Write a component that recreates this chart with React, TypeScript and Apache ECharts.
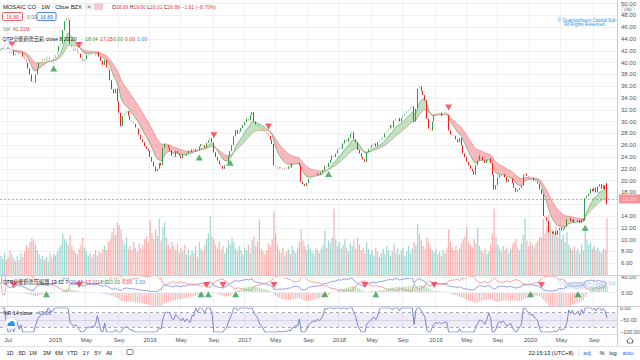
import React, { useEffect, useRef } from "react";
import * as echarts from "echarts";

// ---------------- data (weekly) ----------------
const startDate = "2014-06-09";
const padBars = 5;
const firstOpen = 42.0;
const lastBar = { open: 18.69, high: 19.6, low: 16.01, close: 16.89 };

const close2014 = [42.3,42.6,42.9,42.3,42.0,41.6,41.9,41.2,41.6,41.9,41.4,41.7,41.0,40.6,40.0,39.0,38.0,36.8,36.6,38.0,39.2,40.0,40.2,40.6,40.3,40.8,41.0,40.5,40.2,40.8];
const close2015 = [41.3,41.9,42.8,43.2,45.5,47.0,47.6,47.2,43.2,42.6,42.0,42.4,41.8,41.5,40.8,40.2,40.6,41.3,41.8,41.4,42.0,41.6,41.2,41.8,41.0,40.3,39.6,40.5,39.2,38.8,37.0,35.5,34.8,35.6,33.5,31.5,29.2,31.0,31.4,31.8,31.0,30.3,30.0,29.6,29.0,28.8,27.8,27.0,26.5,25.8,25.4,25.0];
const close2016 = [24.0,23.2,22.4,21.6,22.0,23.0,22.6,25.5,26.3,26.0,25.6,25.1,24.2,24.0,25.0,24.6,24.2,23.8,24.5,24.2,24.6,25.0,24.8,25.3,25.0,25.4,25.1,25.8,26.2,26.0,25.6,26.4,26.8,27.2,26.5,24.8,24.0,23.4,22.8,22.5,22.0,22.6,22.9,24.2,25.0,26.0,27.5,28.6,27.9,28.3,28.9,29.4];
const close2017 = [29.9,30.5,30.2,31.1,31.6,30.0,29.5,29.3,29.0,28.9,28.5,28.3,28.0,27.6,26.9,26.2,22.6,22.3,22.0,22.3,22.1,21.9,22.2,22.0,22.4,22.2,22.9,23.0,23.2,23.0,22.6,19.8,19.4,19.1,19.6,20.3,20.6,20.8,21.0,20.9,21.3,21.0,21.4,21.8,22.5,22.3,23.0,23.5,24.2,24.0,24.6,25.3];
const close2018 = [25.6,25.4,26.3,26.9,26.6,27.3,27.9,28.2,27.0,26.5,25.2,24.6,24.0,23.6,23.2,24.8,25.3,25.6,26.0,26.3,25.8,26.5,26.8,27.0,27.3,28.0,28.4,28.8,29.4,29.0,30.2,30.5,30.6,30.0,30.6,31.0,31.4,31.8,32.0,32.4,32.6,30.0,32.2,35.6,36.0,35.2,34.5,33.6,30.5,28.8,28.5,30.0,31.0];
const close2019 = [31.4,31.2,31.5,31.0,31.4,31.6,31.2,28.5,27.8,27.7,27.6,27.0,26.5,27.2,26.0,24.6,24.0,23.2,22.6,22.0,21.6,21.0,22.6,23.4,24.3,24.0,23.4,23.0,23.6,23.8,23.0,21.0,18.5,19.2,20.5,21.0,20.8,21.1,20.6,19.8,20.2,20.4,19.6,18.8,18.1,18.4,18.7,19.1,21.0,21.2,20.8,20.5];
const close2020 = [20.3,20.4,20.0,19.8,19.5,18.5,17.7,14.0,13.8,13.2,11.2,11.3,11.0,11.4,10.8,11.6,12.0,11.6,11.8,12.2,13.5,13.7,13.1,13.4,12.9,13.0,13.3,12.8,13.5,13.2,17.0,17.4,17.8,18.6,18.2,18.8,18.0,19.0,19.4,18.6,19.2,18.5,16.89];

// volume, millions
const vol2014 = [14,12,16,11,13,18,15,12,10,14,11,16,13,17,22,20,24,27,25,22,18,15,12,14,11,13,10,16,12,15];
const vol2015 = [14,17,20,22,30,26,24,22,29,21,18,16,15,19,22,27,20,17,14,16,13,15,18,14,17,16,19,21,18,24,26,31,34,29,38,36,33,25,22,27,19,21,18,24,20,17,23,19,22,26,28,24];
const vol2016 = [40,30,26,33,28,41,25,35,38,27,22,19,24,21,18,23,16,20,17,22,15,19,14,18,16,21,13,24,19,17,22,26,30,43,28,26,22,19,24,18,21,16,20,25,22,27,24,19,17,21,18,15];
const vol2017 = [20,18,22,16,25,28,21,24,40,19,17,15,18,23,21,26,46,30,22,18,16,20,14,17,19,15,21,18,16,20,24,33,25,21,18,22,19,17,15,20,18,16,19,22,32,20,25,23,27,48,26,21];
const vol2018 = [24,19,22,26,20,17,23,21,25,19,27,22,18,20,16,24,19,15,18,14,20,17,13,16,19,15,21,18,14,17,22,16,19,15,18,20,14,17,21,16,19,24,22,37,30,25,21,19,27,24,20,18,16];
const vol2019 = [19,15,17,14,18,16,20,33,24,20,18,21,17,19,23,26,28,35,24,22,20,26,23,34,21,18,16,19,15,17,22,30,48,27,22,19,17,21,18,20,16,19,22,24,26,20,18,23,29,41,25,21];
const vol2020 = [24,22,20,23,25,28,27,41,30,36,44,38,33,30,35,28,32,26,29,24,31,22,20,18,21,17,19,16,22,18,33,26,22,24,19,21,18,20,17,16,19,18,41.31];

// signal markers (bar indices)
const priceUpSignals = [29, 109, 126, 180, 321];
const priceDownSignals = [6, 43, 117, 147, 246];
const oscUpSignals = [25, 110, 114, 129, 178, 206, 291, 317];
const oscDownSignals = [7, 43, 113, 122, 150, 200, 238, 297];

// legend texts
const trendLegendName = "QTP全能趋势云彩 close 8 20 20";
const trendLegendValues = ["18.04", "17.15", "0.00", "0.00", "1.00"];
const oscLegendName = "QTP全能趋势压缩器 13 12 7";
const oscLegendValues = ["−39.81", "−13.11", "13.32", "0.00", "0.00", "1.00"];
const wrLegendValue = "−47.58";
const volLegendValue = "41.31M";

// ---------------- styling constants ----------------
const FONT = '"Liberation Sans", Arial, "Noto Sans CJK SC", sans-serif';
const UP = "#2e9e48";
const UP_PALE = "#9fd4a6";
const DN = "#f0201e";
const DN_PALE = "#f3a3a3";
const GRID = "#eef1f6";
const AXIS_TXT = "#50535e";
const BORDER = "#c9ccd4";

function ema(arr: number[], n: number) {
  const k = 2 / (n + 1);
  const out: number[] = [];
  let prev = arr[0];
  arr.forEach((v, i) => {
    prev = i === 0 ? v : v * k + prev * (1 - k);
    out.push(prev);
  });
  return out;
}

function rsi(arr: number[], n: number) {
  const out: number[] = [];
  let au = 0, ad = 0;
  arr.forEach((v, i) => {
    if (i === 0) { out.push(50); return; }
    const d = v - arr[i - 1];
    const u = Math.max(d, 0), dn = Math.max(-d, 0);
    if (i <= n) { au += u / n; ad += dn / n; }
    else { au = (au * (n - 1) + u) / n; ad = (ad * (n - 1) + dn) / n; }
    out.push(ad === 0 ? 100 : 100 - 100 / (1 + au / ad));
  });
  return out;
}

function buildOption() {
  const closes = [...close2014, ...close2015, ...close2016, ...close2017, ...close2018, ...close2019, ...close2020];
  const volumes = [...vol2014, ...vol2015, ...vol2016, ...vol2017, ...vol2018, ...vol2019, ...vol2020];
  const N = closes.length;
  const opens = closes.map((c, i) => (i === 0 ? firstOpen : closes[i - 1]));
  opens[N - 1] = lastBar.open;
  const highs = closes.map((c, i) => Math.max(opens[i], c));
  const lows = closes.map((c, i) => Math.min(opens[i], c));
  highs[N - 1] = lastBar.high;
  lows[N - 1] = lastBar.low;

  const DAY = 86400000;
  const t0 = Date.parse(startDate + "T00:00:00Z");
  const dates = Array.from({ length: N + padBars }, (_, k) => new Date(t0 + k * 7 * DAY));
  const cats = dates.map((d) => d.toISOString().slice(0, 10));
  const MONTHS = ["Jan","Feb","Mar","Apr","May","Jun","Jul","Aug","Sep","Oct","Nov","Dec"];
  const isMark = (k: number) => {
    if (k <= 0 || k >= dates.length) return false;
    const d = dates[k], p = dates[k - 1];
    if (d.getUTCMonth() === p.getUTCMonth()) return false;
    const m = d.getUTCMonth();
    const y = d.getUTCFullYear();
    if (y === 2014) return m === 6;
    return m === 0 || m === 4 || m === 8;
  };
  const fmtDate = (v: string) => {
    const d = new Date(v + "T00:00:00Z");
    const m = d.getUTCMonth();
    return m === 0 ? String(d.getUTCFullYear()) : MONTHS[m];
  };

  // trend cloud
  const e8 = ema(closes, 8);
  const e20 = ema(closes, 20);
  const base = e8.map((v, i) => Math.min(v, e20[i]));
  const upBand = e8.map((v, i) => (v >= e20[i] ? v - e20[i] : 0));
  const dnBand = e8.map((v, i) => (v < e20[i] ? e20[i] - v : 0));

  // oscillator pane
  const e12 = ema(closes, 12);
  const e26 = ema(closes, 26);
  const hist = e12.map((v, i) => (300 * (v - e26[i])) / e26[i]);
  const r14 = rsi(closes, 14);
  const r10 = rsi(closes, 10);
  const blueLine = r14.map((v) => 0.55 * v - 5);
  const redLine = r10.map((v) => 0.55 * (100 - v) - 5);

  // Williams %R 14
  const wr = closes.map((c, i) => {
    let hh = -Infinity, ll = Infinity;
    for (let k = Math.max(0, i - 13); k <= i; k++) { hh = Math.max(hh, highs[k]); ll = Math.min(ll, lows[k]); }
    return hh === ll ? -50 : ((hh - c) / (hh - ll)) * -100;
  });

  const candleData = closes.map((c, i) => {
    const o = opens[i];
    const up = c >= o;
    const strong = Math.abs(c - o) / o >= 0.015;
    const col = up ? (strong ? UP : UP_PALE) : strong ? DN : DN_PALE;
    return { value: [o, c, lows[i], highs[i]], itemStyle: { color: col, color0: col, borderColor: col, borderColor0: col } };
  });
  const volData = volumes.map((v, i) => ({
    value: v,
    itemStyle: { color: closes[i] >= opens[i] ? "rgba(38,166,154,0.45)" : "rgba(239,83,80,0.45)" },
  }));
  const histData = hist.map((v) => ({
    value: v,
    itemStyle: { color: v >= 0 ? "rgba(76,175,80,0.5)" : "rgba(239,83,80,0.45)" },
  }));

  const gridBase = { left: 0, right: 23, containLabel: false, outerBoundsMode: "none" };
  const xBase = (g: number, showLabel: boolean, showSplit: boolean) => ({
    type: "category",
    gridIndex: g,
    data: cats,
    boundaryGap: true,
    axisLine: { show: false },
    axisTick: { show: false },
    axisLabel: {
      show: showLabel,
      interval: (idx: number) => isMark(idx),
      formatter: fmtDate,
      fontSize: 6,
      color: AXIS_TXT,
      fontFamily: FONT,
      margin: 5,
    },
    splitLine: { show: showSplit, interval: (idx: number) => isMark(idx), lineStyle: { color: GRID, width: 1 } },
  });

  const T = (x: number, y: number, text: string, fill: string, size = 5.2, align = "left") => ({
    type: "text",
    x,
    y,
    silent: true,
    z: 100,
    style: {
      text,
      fill,
      font: `${size}px ${FONT}`,
      textAlign: align,
      textVerticalAlign: "middle",
      align,
      verticalAlign: "middle",
    },
  });
  const L = (x1: number, y1: number, x2: number, y2: number, stroke = BORDER) => ({
    type: "line",
    silent: true,
    z: 90,
    shape: { x1, y1, x2, y2 },
    style: { stroke, lineWidth: 1 },
  });

  const graphics: any[] = [
    // pane borders
    L(617.5, 0, 617.5, 346),
    L(0, 275.5, 640, 275.5),
    L(0, 306.5, 640, 306.5),
    L(0, 334.5, 617, 334.5, "#e0e3eb"),
    L(0, 346.5, 640, 346.5, "#e0e3eb"),
    // header row 1
    T(3, 7, "MOSAIC CO · 1W · Cboe BZX", "#131722", 5.8),
    { type: "rect", silent: true, z: 100, shape: { x: 85, y: 3.5, width: 8, height: 6, r: 1 }, style: { fill: "#e9ebf0" } },
    T(89, 6.5, "=", "#555", 5, "center"),
    { type: "rect", silent: true, z: 100, shape: { x: 94, y: 3, width: 9, height: 7, r: 1 }, style: { fill: "#f8c9cf" } },
    {
      type: "text", x: 112, y: 7, silent: true, z: 100,
      style: {
        text: "{k|O}{v|18.69} {k|H}{v|19.60} {k|L}{v|16.01} {k|C}{v|16.89} {v|−1.61 (−8.70%)}",
        font: `5px ${FONT}`,
        textVerticalAlign: "middle", verticalAlign: "middle",
        rich: { k: { fill: "#131722", fontSize: 5, fontFamily: FONT }, v: { fill: "#f23645", fontSize: 5, fontFamily: FONT } },
      },
    },
    // header row 2
    { type: "rect", silent: true, z: 100, shape: { x: 2.5, y: 12.5, width: 20, height: 8, r: 1 }, style: { fill: "#fff", stroke: "#f23645", lineWidth: 0.8 } },
    T(12.5, 16.7, "16.89", "#f23645", 5, "center"),
    T(27, 16.7, "0.00", "#787b86", 5),
    { type: "rect", silent: true, z: 100, shape: { x: 37, y: 12.5, width: 19, height: 8, r: 1 }, style: { fill: "#fff", stroke: "#2962ff", lineWidth: 0.8 } },
    T(46.5, 16.7, "16.89", "#2962ff", 5, "center"),
    // row 3
    T(3, 29, "Vol", "#787b86", 5),
    T(13, 29, volLegendValue, "#f23645", 5),
    // row 4
    T(2.5, 39, trendLegendName, "#131722", 5.2),
    T(85, 39, trendLegendValues[0], "#2e9e48", 5.2),
    T(100, 39, trendLegendValues[1], "#f23645", 5.2),
    T(113, 39, trendLegendValues[2], "#2e9e48", 5.2),
    T(125, 39, trendLegendValues[3], "#f23645", 5.2),
    T(137, 39, trendLegendValues[4], "#2196f3", 5.2),
    { type: "rect", silent: true, z: 100, shape: { x: 4, y: 45, width: 8, height: 7, r: 1 }, style: { fill: "#fff", stroke: "#d1d4dc", lineWidth: 0.7 } },
    { type: "polyline", silent: true, z: 101, shape: { points: [[6, 49.5], [8, 47.5], [10, 49.5]] }, style: { stroke: "#555", lineWidth: 0.8, fill: "none" } },
    // watermark
    T(587, 20.5, "© Quantechsero Capital Sdn", "#2196f3", 4.6, "center"),
    T(585, 24.7, "All Rights Reserved.", "#2196f3", 4.6, "center"),
    T(587, 283.5, "© Quantechsero Capital Sdn", "#9ccaf2", 4.6, "center"),
    T(585, 287.7, "All Rights Reserved.", "#9ccaf2", 4.6, "center"),
    // USD box
    { type: "rect", silent: true, z: 100, shape: { x: 622, y: 7, width: 12, height: 5.6, r: 1 }, style: { fill: "#fff", stroke: "#c9ccd4", lineWidth: 0.7 } },
    T(628, 9.9, "USD", "#50535e", 3.8, "center"),
    // osc legend
    T(2.5, 281.7, oscLegendName, "#131722", 5.2),
    T(67, 281.7, oscLegendValues[0], "#5c6bc0", 5.2),
    T(82, 281.7, oscLegendValues[1], "#f23645", 5.2),
    T(97, 281.7, oscLegendValues[2], "#2e9e48", 5.2),
    T(110, 281.7, oscLegendValues[3], "#2e9e48", 5.2),
    T(122, 281.7, oscLegendValues[4], "#f23645", 5.2),
    T(135, 281.7, oscLegendValues[5], "#2196f3", 5.2),
    // WR legend
    T(3, 313, "%R 14 close", "#131722", 5.2),
    T(35, 313, wrLegendValue, "#5c6bc0", 5.2),
    // cloud badge
    { type: "circle", silent: true, z: 100, shape: { cx: 11, cy: 323.5, r: 6 }, style: { fill: "#fff", stroke: "#d1d4dc", lineWidth: 0.7 } },
    { type: "circle", silent: true, z: 101, shape: { cx: 9.3, cy: 324.3, r: 1.8 }, style: { fill: "#2196f3" } },
    { type: "circle", silent: true, z: 101, shape: { cx: 12.2, cy: 323.3, r: 2.3 }, style: { fill: "#2196f3" } },
    { type: "rect", silent: true, z: 101, shape: { x: 7.6, y: 324.3, width: 7.5, height: 1.8 }, style: { fill: "#2196f3" } },
    // home icon
    { type: "polyline", silent: true, z: 100, shape: { points: [[626.5, 341], [630, 337.5], [633.5, 341]] }, style: { stroke: "#50535e", lineWidth: 0.8, fill: "none" } },
    { type: "polyline", silent: true, z: 100, shape: { points: [[627.5, 340], [627.5, 343], [632.5, 343], [632.5, 340]] }, style: { stroke: "#50535e", lineWidth: 0.8, fill: "none" } },
    // toolbar
    ...[["1D", 10], ["5D", 22], ["1M", 33], ["3M", 47], ["6M", 59], ["YTD", 72], ["1Y", 86], ["5Y", 98], ["All", 109]].map(([t, x]) =>
      T(x as number, 352.5, t as string, "#131722", 5.6, "center")
    ),
    L(121.5, 349, 121.5, 356, "#e0e3eb"),
    { type: "rect", silent: true, z: 100, shape: { x: 127, y: 349.5, width: 6, height: 5, r: 0.5 }, style: { fill: "none", stroke: "#50535e", lineWidth: 0.7 } },
    T(551, 352.5, "22:15:13 (UTC+8)", "#131722", 5.6, "center"),
    L(578.5, 349, 578.5, 356, "#e0e3eb"),
    T(587, 352.5, "adj", "#2962ff", 5.6, "center"),
    T(602, 352.5, "%", "#131722", 5.6, "center"),
    T(613, 352.5, "log", "#131722", 5.6, "center"),
    T(628, 352.5, "auto", "#2962ff", 5.6, "center"),
  ];

  return {
    animation: false,
    backgroundColor: "#ffffff",
    textStyle: { fontFamily: FONT },
    grid: [
      { ...gridBase, top: -8.2, height: 283.2 },
      { ...gridBase, top: 175, height: 100 },
      { ...gridBase, top: 275, height: 31 },
      { ...gridBase, top: 307.8, height: 24.3 },
    ],
    xAxis: [xBase(0, false, true), xBase(1, false, false), xBase(2, false, true), xBase(3, true, true)],
    yAxis: [
      {
        type: "value", gridIndex: 0, position: "right", min: 4, max: 52, interval: 2,
        axisLine: { show: false }, axisTick: { show: false },
        axisLabel: {
          fontSize: 6, color: AXIS_TXT, margin: 4, fontFamily: FONT,
          formatter: (v: number) => (v <= 4 || v >= 52 || Math.abs(v - lastBar.close) < 1 ? "" : v.toFixed(2)),
        },
        splitLine: { show: true, lineStyle: { color: GRID, width: 1 } },
      },
      { type: "value", gridIndex: 1, min: 0, max: 72.5, show: false, splitLine: { show: false } },
      { type: "value", gridIndex: 2, min: -34.5, max: 46, show: false, splitLine: { show: false } },
      {
        type: "value", gridIndex: 3, position: "right", min: -100, max: 0, interval: 50,
        axisLine: { show: false }, axisTick: { show: false },
        axisLabel: { fontSize: 5.4, color: AXIS_TXT, margin: 3, fontFamily: FONT, formatter: (v: number) => v.toFixed(2).replace("-", "−") },
        splitLine: { show: false },
      },
    ],
    series: [
      { type: "bar", name: "vol", xAxisIndex: 1, yAxisIndex: 1, data: volData, barWidth: 1.2, z: 1, silent: true },
      { type: "line", xAxisIndex: 0, yAxisIndex: 0, data: base, stack: "band", symbol: "none", lineStyle: { width: 0, opacity: 0 }, z: 2, silent: true },
      { type: "line", xAxisIndex: 0, yAxisIndex: 0, data: upBand, stack: "band", symbol: "none", lineStyle: { width: 0, opacity: 0 }, areaStyle: { color: "rgba(76,175,80,0.35)", opacity: 1 }, z: 2, silent: true },
      { type: "line", xAxisIndex: 0, yAxisIndex: 0, data: dnBand, stack: "band", symbol: "none", lineStyle: { width: 0, opacity: 0 }, areaStyle: { color: "rgba(242,54,69,0.35)", opacity: 1 }, z: 2, silent: true },
      { type: "line", xAxisIndex: 0, yAxisIndex: 0, data: e8, symbol: "none", lineStyle: { width: 0.7, color: "rgba(67,150,70,0.8)" }, z: 3, silent: true },
      { type: "line", xAxisIndex: 0, yAxisIndex: 0, data: e20, symbol: "none", lineStyle: { width: 0.7, color: "rgba(214,120,100,0.8)" }, z: 3, silent: true },
      {
        type: "candlestick", xAxisIndex: 0, yAxisIndex: 0, data: candleData, barWidth: 1.3, z: 5, silent: true,
        markLine: {
          silent: true, symbol: ["none", "none"],
          data: [{ yAxis: lastBar.close }],
          lineStyle: { color: "#f23645", type: [2, 2], width: 1, opacity: 0.55 },
          label: {
            show: true, position: "end", formatter: lastBar.close.toFixed(2), color: "#fff",
            backgroundColor: "#f23645", fontSize: 6, fontFamily: FONT, padding: [2, 3, 1, 3], distance: 2,
          },
        },
      },
      {
        type: "scatter", xAxisIndex: 0, yAxisIndex: 0, silent: true, z: 6,
        data: priceUpSignals.map((k) => [k, lows[k]]),
        symbol: "triangle", symbolSize: [7, 6], symbolOffset: [0, 7], itemStyle: { color: "#2e9e48" },
      },
      {
        type: "scatter", xAxisIndex: 0, yAxisIndex: 0, silent: true, z: 6,
        data: priceDownSignals.map((k) => [k, highs[k]]),
        symbol: "triangle", symbolRotate: 180, symbolSize: [7, 6], symbolOffset: [0, -7], itemStyle: { color: "#f23645" },
      },
      // oscillator pane
      { type: "bar", xAxisIndex: 2, yAxisIndex: 2, data: histData, barWidth: 0.9, z: 2, silent: true },
      { type: "line", xAxisIndex: 2, yAxisIndex: 2, data: blueLine, symbol: "none", lineStyle: { width: 0.8, color: "#7b86e0" }, z: 3, silent: true },
      {
        type: "line", xAxisIndex: 2, yAxisIndex: 2, data: redLine, symbol: "none", lineStyle: { width: 0.8, color: "#f08a8a" }, z: 3, silent: true,
        markLine: {
          silent: true, symbol: ["none", "none"],
          lineStyle: { color: GRID, type: "solid", width: 1 },
          label: { show: true, position: "end", formatter: (p: any) => Number(p.value).toFixed(2), color: AXIS_TXT, fontSize: 6, fontFamily: FONT, distance: 4 },
          data: [{ yAxis: 40 }, { yAxis: 0 }],
        },
      },
      {
        type: "scatter", xAxisIndex: 2, yAxisIndex: 2, silent: true, z: 6,
        data: oscUpSignals.map((k) => [k, -4]), symbol: "triangle", symbolSize: [7, 6], itemStyle: { color: "#2e9e48" },
      },
      {
        type: "scatter", xAxisIndex: 2, yAxisIndex: 2, silent: true, z: 6,
        data: oscDownSignals.map((k) => [k, 20]), symbol: "triangle", symbolRotate: 180, symbolSize: [7, 6], itemStyle: { color: "#f23645" },
      },
      // Williams %R
      {
        type: "line", xAxisIndex: 3, yAxisIndex: 3, data: wr, symbol: "none", lineStyle: { width: 0.8, color: "#5c6bc0" }, z: 3, silent: true,
        markArea: { silent: true, itemStyle: { color: "rgba(126,87,194,0.12)" }, data: [[{ yAxis: -20 }, { yAxis: -80 }]] },
        markLine: {
          silent: true, symbol: ["none", "none"], label: { show: false },
          data: [
            { yAxis: -20, lineStyle: { color: "#9598a1", type: [3, 3], width: 0.8 } },
            { yAxis: -80, lineStyle: { color: "#9598a1", type: [3, 3], width: 0.8 } },
            { yAxis: -50, lineStyle: { color: "rgba(149,152,161,0.35)", type: "solid", width: 0.8 } },
          ],
        },
      },
    ],
    graphic: graphics,
  };
}

export default function App() {
  const ref = useRef<HTMLDivElement>(null);
  useEffect(() => {
    if (!ref.current) return;
    const chart = echarts.init(ref.current, null, { renderer: "svg" });
    chart.setOption(buildOption() as any);
    return () => chart.dispose();
  }, []);
  return (
    <div
      ref={ref}
      style={{ position: "fixed", left: 0, top: 0, width: 640, height: 360, background: "#fff" }}
    />
  );
}
